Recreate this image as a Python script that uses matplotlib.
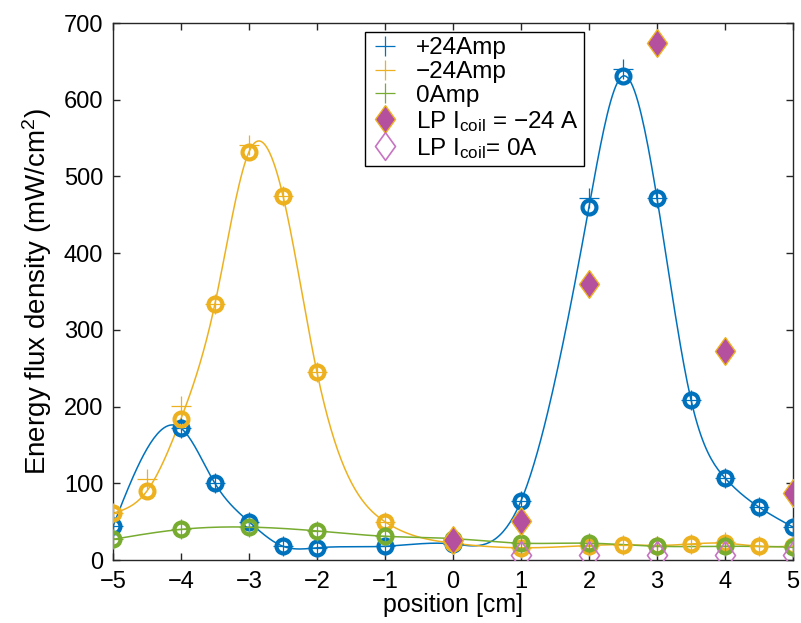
import numpy as np
import matplotlib
matplotlib.use("Agg")
import matplotlib.pyplot as plt
from matplotlib.path import Path

plt.rcParams['font.family'] = ['Liberation Sans', 'DejaVu Sans']
plt.rcParams['mathtext.fontset'] = 'custom'
plt.rcParams['mathtext.rm'] = 'Liberation Sans'
plt.rcParams['mathtext.it'] = 'Liberation Sans:italic'
plt.rcParams['mathtext.bf'] = 'Liberation Sans:bold'

# ---------------- data ----------------
x_pos = [-5, -4, -3.5, -3, -2.5, -2, -1, 0, 1, 2, 2.5, 3, 3.5, 4, 4.5, 5]
pos_circle = [44, 172, 100, 50, 18, 16, 18, 21, 77, 460, 631, 472, 209, 107, 69, 43]
pos_plus = [44, 172, 100, 50, 18, 16, 18, 21, 77, 472, 640, 472, 209, 107, 69, 43]

x_neg = [-5, -4.5, -4, -3.5, -3, -2.5, -2, -1, 0, 1, 2, 2.5, 3, 3.5, 4, 4.5, 5]
neg_circle = [61, 90, 184, 334, 532, 475, 245, 50, 22, 16, 19, 20, 19, 21, 22, 18, 18]
neg_plus = [61, 106, 201, 334, 541, 475, 245, 50, 22, 16, 19, 20, 19, 21, 24, 18, 18]

x_zero = [-5, -4, -3, -2, -1, 0, 1, 2, 3, 4, 5]
zero_vals = [27, 40, 43, 38, 31, 28, 22, 22, 18, 18, 17]

x_lp = [0, 1, 2, 3, 4, 5]
lp_neg = [26, 51, 360, 674, 272, 87]
x_lp0 = [1, 2, 3, 4, 5]
lp_zero = [6, 6, 6, 6, 6]

labels = ['+24Amp', '\u221224Amp', '0Amp',
          'LP I$_{\\mathrm{coil}}$ = \u221224 A',
          'LP I$_{\\mathrm{coil}}$= 0A']

c_blue = '#0072BD'
c_yel = '#EDB120'
c_grn = '#77AC30'
c_pur = '#B5509F'
c_pur2 = '#C774C2'


def natural_spline(x, y, n=400):
    x = np.asarray(x, float)
    y = np.asarray(y, float)
    m = len(x)
    h = np.diff(x)
    A = np.zeros((m, m))
    b = np.zeros(m)
    A[0, 0] = 1
    A[-1, -1] = 1
    for i in range(1, m - 1):
        A[i, i - 1] = h[i - 1]
        A[i, i] = 2 * (h[i - 1] + h[i])
        A[i, i + 1] = h[i]
        b[i] = 3 * ((y[i + 1] - y[i]) / h[i] - (y[i] - y[i - 1]) / h[i - 1])
    c = np.linalg.solve(A, b)
    xs = np.linspace(x[0], x[-1], n)
    ys = np.empty_like(xs)
    for k, xv in enumerate(xs):
        i = min(np.searchsorted(x, xv, side='right') - 1, m - 2)
        dx = xv - x[i]
        bi = (y[i + 1] - y[i]) / h[i] - h[i] * (2 * c[i] + c[i + 1]) / 3
        di = (c[i + 1] - c[i]) / (3 * h[i])
        ys[k] = y[i] + bi * dx + c[i] * dx ** 2 + di * dx ** 3
    return xs, ys


diamond = Path([(0, 1), (0.72, 0), (0, -1), (-0.72, 0), (0, 1)],
               [Path.MOVETO, Path.LINETO, Path.LINETO, Path.LINETO, Path.CLOSEPOLY])

fig = plt.figure(figsize=(8.01, 6.23), dpi=100)
ax = fig.add_axes([0.141, 0.101, 0.849, 0.862])

series = [
    (x_pos, pos_circle, pos_plus, c_blue, labels[0]),
    (x_neg, neg_circle, neg_plus, c_yel, labels[1]),
    (x_zero, zero_vals, zero_vals, c_grn, labels[2]),
]
handles = []
for xv, yc, yp, col, lab in series:
    sx, sy = natural_spline(xv, yc)
    ax.plot(sx, sy, color=col, lw=1.1, zorder=2)
    h, = ax.plot(xv, yp, linestyle='none', marker='+', markersize=14,
                 markeredgewidth=0.9, color=col, label=lab, zorder=3)
    ax.plot(xv, yc, linestyle='none', marker='o', markersize=10,
            markeredgewidth=3.0, markerfacecolor='none', markeredgecolor=col,
            zorder=3)
    handles.append(h)

h4, = ax.plot(x_lp, lp_neg, linestyle='none', marker=diamond, markersize=20,
              markerfacecolor=c_pur, markeredgecolor=c_yel, markeredgewidth=1.0,
              label=labels[3], zorder=4)
h5, = ax.plot(x_lp0, lp_zero, linestyle='none', marker=diamond, markersize=20,
              markerfacecolor='none', markeredgecolor=c_pur2, markeredgewidth=1.2,
              label=labels[4], zorder=4)
handles += [h4, h5]

ax.set_xlim(-5, 5)
ax.set_ylim(0, 700)
ax.set_xticks(np.arange(-5, 6, 1))
ax.set_yticks(np.arange(0, 701, 100))
ax.set_xticklabels([str(v).replace('-', '\u2212') for v in range(-5, 6)])
ax.tick_params(direction='in', length=5, width=1, top=True, right=True,
               labelsize=17, colors='#262626', labelcolor='black')
ax.tick_params(axis='x', pad=8)
ax.tick_params(axis='y', pad=7)
for s in ax.spines.values():
    s.set_color('#262626')
    s.set_linewidth(1.0)

ax.set_xlabel('position [cm]', fontsize=18, labelpad=0)
ax.set_ylabel('Energy flux density (mW/cm$^2$)', fontsize=20, labelpad=7)

leg = ax.legend(handles=handles, loc='upper left', bbox_to_anchor=(0.37, 0.983),
                fontsize=17.5, frameon=True, fancybox=False, framealpha=1,
                edgecolor='black', handlelength=1.3, handletextpad=0.6,
                borderpad=0.2, labelspacing=0.08, borderaxespad=0)
leg.get_frame().set_linewidth(1.0)

fig.savefig('out.png', dpi=100)
